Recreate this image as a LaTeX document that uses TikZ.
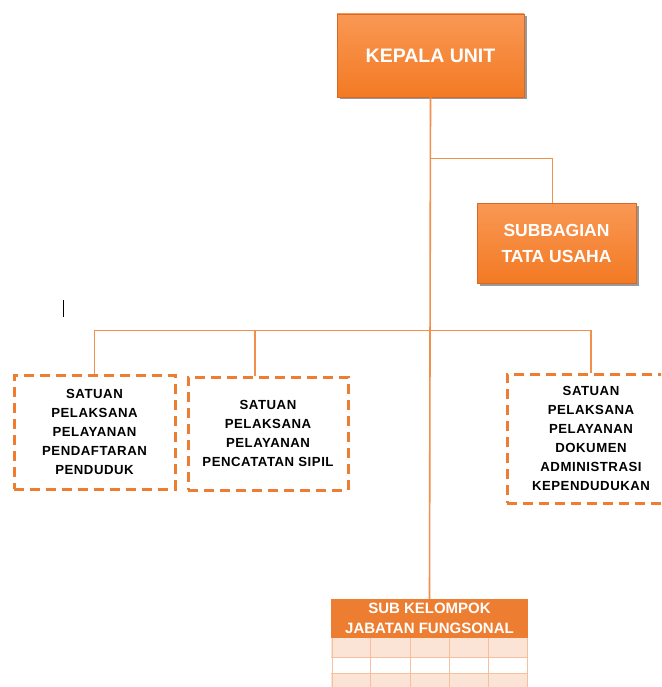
\documentclass[tikz,border=0pt]{standalone}
\usepackage{fontspec}
\setmainfont{Liberation Sans}
\newfontfamily\unitfont[LetterSpace=4]{Liberation Sans}
\usetikzlibrary{shadows}
\definecolor{unitorange}{RGB}{237,125,49}
\definecolor{linkorange}{RGB}{241,143,77}
\definecolor{boxtop}{RGB}{249,152,84}
\definecolor{boxbottom}{RGB}{243,122,36}
\definecolor{boxedge}{RGB}{214,104,40}
\definecolor{rowpeach}{RGB}{251,228,213}
\definecolor{cellline}{RGB}{246,192,158}
\begin{document}
\begin{tikzpicture}[
 x=1pt,y=-1pt,
 line/.style={draw=linkorange,line width=1.6pt},
 headbox/.style={top color=boxtop,bottom color=boxbottom,draw=boxedge,line width=.8pt,
  drop shadow={shadow xshift=2.5pt,shadow yshift=-2.5pt,opacity=.5,fill=black!80},
  text=white,align=center},
 unitbox/.style={draw=unitorange,line width=3pt,dash pattern=on 10pt off 6pt,
  align=center,font=\unitfont\fontsize{13.2}{19}\selectfont\bfseries},
 every node/.style={inner sep=0pt}]
 \useasboundingbox (0,0) rectangle (661,687);
 \clip (0,0) rectangle (661,687);
 % Head and secretariat.
 \node[headbox,minimum width=187,minimum height=83,font=\fontsize{19.5}{23}\selectfont\bfseries]
  (kepala) at (430.5,55.5) {KEPALA UNIT};
 \node[headbox,minimum width=159,minimum height=80,font=\fontsize{17.5}{26}\selectfont\bfseries]
  (sub) at (556.5,243) {SUBBAGIAN\\TATA USAHA};
 % Service units.
 \node[unitbox,minimum width=161,minimum height=114] (s1) at (94.5,432)
  {SATUAN\\PELAKSANA\\PELAYANAN\\PENDAFTARAN\\PENDUDUK};
 \node[unitbox,minimum width=160,minimum height=113] (s2) at (268,433.5)
  {SATUAN\\PELAKSANA\\PELAYANAN\\PENCATATAN SIPIL};
 \node[unitbox,minimum width=168,minimum height=129] (s3) at (591,438.5)
  {SATUAN\\PELAKSANA\\PELAYANAN\\DOKUMEN\\ADMINISTRASI\\KEPENDUDUKAN};
 % Functional group table.
 \node[fill=unitorange,text=white,align=center,minimum width=197,minimum height=39,
  font=\fontsize{15}{20}\selectfont\bfseries] (jf) at (429.5,618.5)
  {SUB KELOMPOK\\JABATAN FUNGSONAL};
 \foreach \t/\b/\c in {638/657/rowpeach,657/673/white,673/695/rowpeach}
  \fill[\c] (331,\t) rectangle (528,\b);
 \foreach \cx in {332,370,410,449,488,527}
  \draw[cellline,line width=1pt] (\cx,638) -- (\cx,695);
 \foreach \ry in {657,673}
  \draw[cellline,line width=1pt] (331,\ry) -- (528,\ry);
 % Connectors.
 \path (kepala.south) ++(0,61) coordinate (tap);
 \path (kepala.south) ++(0,233) coordinate (bus);
 \draw[line] (kepala.south) -- (jf.north);
 \draw[line] (tap) -| ([xshift=-4pt]sub.north);
 \draw[line] (bus) -| (s1.north);
 \draw[line] (bus) -| ([xshift=-13pt]s2.north);
 \draw[line] (bus) -| (s3.north);
 % Text cursor.
 \draw[black,line width=.8pt] (63,300) -- (63,317);
\end{tikzpicture}
\end{document}
